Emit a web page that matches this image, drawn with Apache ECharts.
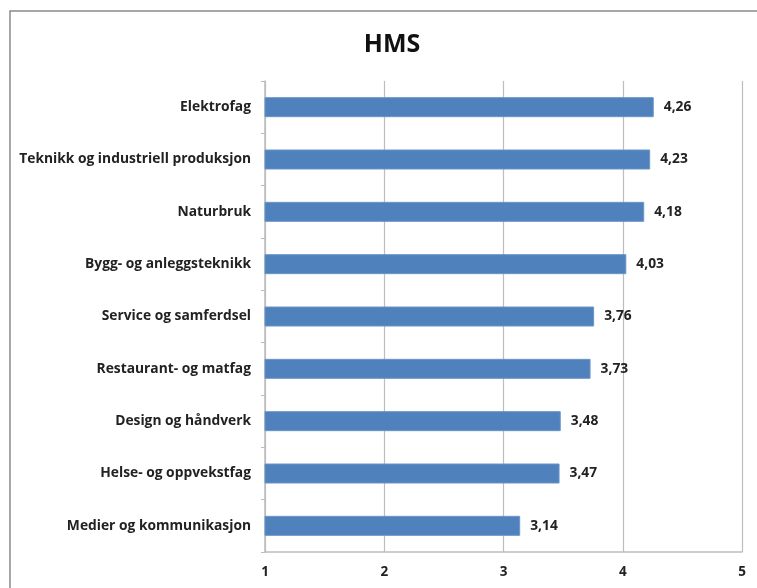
<!DOCTYPE html>
<html><head><meta charset="utf-8">
<script src="https://cdn.jsdelivr.net/npm/echarts@6/dist/echarts.min.js"></script>
<style>html,body{margin:0;padding:0;background:#fff}#c{width:757px;height:588px}</style>
</head><body><div id="c"></div>
<script>
const categories = ["Elektrofag","Teknikk og industriell produksjon","Naturbruk","Bygg- og anleggsteknikk","Service og samferdsel","Restaurant- og matfag","Design og håndverk","Helse- og oppvekstfag","Medier og kommunikasjon"];
const values = [4.26,4.23,4.18,4.03,3.76,3.73,3.48,3.47,3.14];
const title = "HMS";
const font = "'Open Sans', sans-serif";
const chart = echarts.init(document.getElementById('c'), null, {renderer:'canvas'});
chart.setOption({
  animation:false,
  backgroundColor:'#fff',
  graphic:[{type:'rect',shape:{x:10,y:11,width:800,height:700},style:{fill:'none',stroke:'#8a8a8a',lineWidth:1.5},z:-1}],
  title:{text:title,left:387,top:27,textAlign:'center',textStyle:{fontFamily:font,fontWeight:'bold',fontSize:25,color:'#111'}},
  grid:{left:265,right:15,top:81,bottom:36,containLabel:false},
  xAxis:{type:'value',min:1,max:5,interval:1,
    axisLine:{show:true,lineStyle:{color:'#bdbdbd',width:1.5}},
    axisTick:{show:false},
    splitLine:{show:true,lineStyle:{color:'#bdbdbd',width:1.2}},
    axisLabel:{fontFamily:font,fontWeight:'bold',fontSize:13.5,color:'#222',margin:13}},
  yAxis:{type:'category',data:categories,inverse:true,
    axisLine:{show:true,lineStyle:{color:'#bdbdbd',width:1.5}},
    axisTick:{show:true,length:4,lineStyle:{color:'#bdbdbd'}},
    splitLine:{show:false},
    axisLabel:{fontFamily:font,fontWeight:'bold',fontSize:13.8,color:'#222',margin:14}},
  series:[{type:'bar',data:values,barWidth:20,
    itemStyle:{color:'#4f81bd',borderColor:'#6b95c8',borderWidth:1},
    label:{show:true,position:'right',distance:10,fontFamily:font,fontWeight:'bold',fontSize:13.8,color:'#222',
      formatter:p=>p.value.toFixed(2).replace('.',',')}}]
});
</script></body></html>
